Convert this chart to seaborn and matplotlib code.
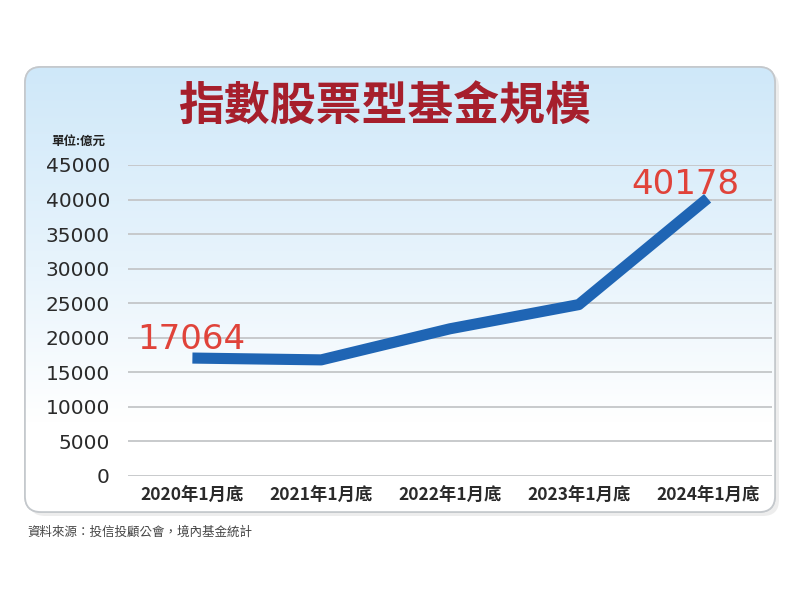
import numpy as np
import pandas as pd
import seaborn as sns
import matplotlib.pyplot as plt
from matplotlib.patches import FancyBboxPatch
from matplotlib.colors import LinearSegmentedColormap

# 指數股票型基金規模 (單位: 億元)
periods = ["2020年1月底", "2021年1月底", "2022年1月底", "2023年1月底", "2024年1月底"]
sizes = [17064, 16800, 21300, 24800, 40178]
yticks = [0, 5000, 10000, 15000, 20000, 25000, 30000, 35000, 40000, 45000]

df = pd.DataFrame({"period": periods, "size": sizes})

sns.set_theme(style="white")
plt.rcParams["font.family"] = ["Noto Sans CJK TC", "DejaVu Sans"]

fig = plt.figure(figsize=(8, 6), dpi=100)
fig.patch.set_facecolor("white")

# background panel with gradient, in pixel coords
bg = fig.add_axes([0, 0, 1, 1], zorder=-1)
bg.axis("off")
shadow = FancyBboxPatch((29, 71), 750, 445, boxstyle="round,pad=0,rounding_size=16",
                        facecolor="#000000", alpha=0.07, edgecolor="none", zorder=-2)
bg.add_patch(shadow)
panel = FancyBboxPatch((25, 67), 750, 445, boxstyle="round,pad=0,rounding_size=16",
                       facecolor="white", edgecolor="#c4c8cc", linewidth=1.2, zorder=-1)
bg.add_patch(panel)
cmap = LinearSegmentedColormap.from_list(
    "bgblue", [(0, "#cfe8f9"), (0.45, "#e8f4fc"), (0.8, "#ffffff"), (1, "#ffffff")])
grad = np.linspace(0, 1, 256).reshape(-1, 1)
im = bg.imshow(grad, cmap=cmap, extent=[25, 775, 512, 67], aspect="auto", zorder=0)
im.set_clip_path(panel)
border = FancyBboxPatch((25, 67), 750, 445, boxstyle="round,pad=0,rounding_size=16",
                        facecolor="none", edgecolor="#c4c8cc", linewidth=1.2, zorder=1)
bg.add_patch(border)
bg.set_xlim(0, 800)
bg.set_ylim(600, 0)

ax = fig.add_axes([0.16, 0.2067, 0.805, 0.5183])
ax.set_facecolor("none")
sns.lineplot(data=df, x="period", y="size", ax=ax, color="#1f65b4", linewidth=8,
             solid_capstyle="butt", sort=False)

ax.set_ylim(0, 45000)
ax.set_xlim(-0.5, 4.5)
ax.set_yticks(yticks)
ax.set_yticklabels([str(v) for v in yticks], fontsize=14.5, color="#2a2a2a",
                   family=["DejaVu Sans"])
ax.tick_params(axis="x", labelsize=12.5, colors="#2a2a2a", length=0, pad=8)
for t in ax.get_xticklabels():
    t.set_fontweight("bold")
ax.tick_params(axis="y", length=0, pad=13)
ax.set_xlabel("")
ax.set_ylabel("")
for s in ax.spines.values():
    s.set_visible(False)
ax.grid(axis="y", color="#c4c6c8", linewidth=1.3)
ax.grid(axis="x", visible=False)
ax.set_axisbelow(True)

ax.annotate(f"{sizes[0]}", (0, sizes[0]), xytext=(-40, 6.5), textcoords="offset points",
            ha="left", va="baseline", fontsize=24.5, color="#e0433a",
            family=["DejaVu Sans"])
ax.annotate(f"{sizes[-1]}", (4, sizes[-1]), xytext=(-55, 3), textcoords="offset points",
            ha="left", va="baseline", fontsize=24.5, color="#e0433a",
            family=["DejaVu Sans"])

fig.text(0.481, 0.821, "指數股票型基金規模", ha="center", va="center",
         fontsize=33, fontweight="bold", color="#a61f2c")
fig.text(0.064, 0.765, "單位:億元", ha="left", va="center", fontsize=9,
         fontweight="bold", color="#222222")
fig.text(0.034, 0.113, "資料來源：投信投顧公會，境內基金統計", ha="left", va="center",
         fontsize=9, color="#444444")

fig.savefig("out.png", dpi=100)
